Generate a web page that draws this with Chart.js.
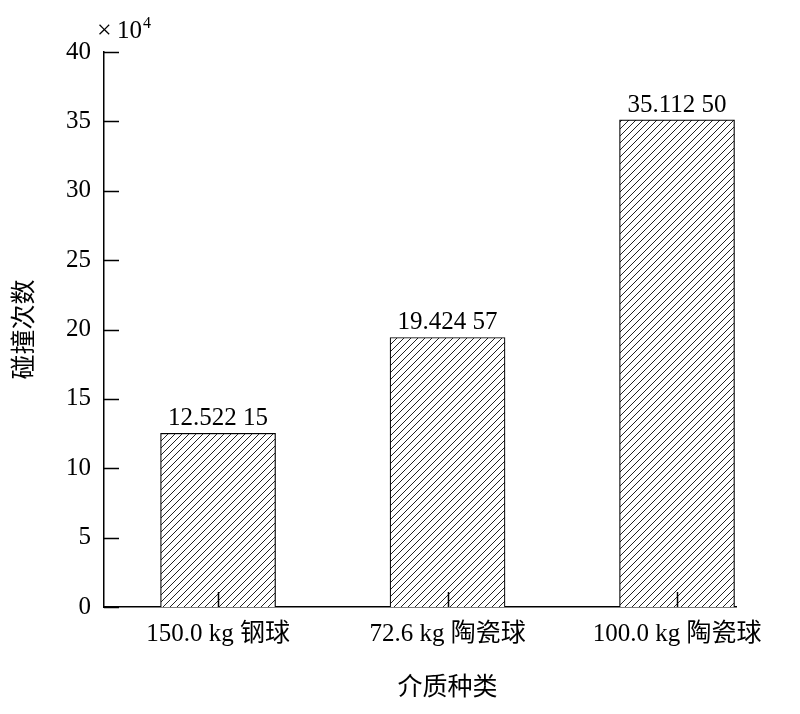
<!DOCTYPE html>
<html>
<head>
<meta charset="utf-8">
<script src="https://cdn.jsdelivr.net/npm/chart.js@4"></script>
<style>
  html, body { margin: 0; padding: 0; background: #fff; }
  #wrap { width: 800px; height: 714px; }
</style>
</head>
<body>
<div id="wrap"><canvas id="myChart"></canvas></div>
<script>
const categories = ['150.0 kg 钢球', '72.6 kg 陶瓷球', '100.0 kg 陶瓷球'];
const positions = [1, 2, 3];
const counts = [12.52215, 19.42457, 35.11250];
const countLabels = ['12.522 15', '19.424 57', '35.112 50'];
const yTicks = [0, 5, 10, 15, 20, 25, 30, 35, 40];

const FONT = '"Liberation Serif", "Noto Sans CJK SC", serif';

// diagonal hatch fill
function hatch() {
  const s = 7;
  const c = document.createElement('canvas');
  c.width = s; c.height = s;
  const g = c.getContext('2d');
  g.fillStyle = '#fff';
  g.fillRect(0, 0, s, s);
  g.strokeStyle = '#222';
  g.lineWidth = 1;
  g.beginPath();
  g.moveTo(0, s); g.lineTo(s, 0);
  g.moveTo(-2, 2); g.lineTo(2, -2);
  g.moveTo(s - 2, s + 2); g.lineTo(s + 2, s - 2);
  g.stroke();
  return g.createPattern(c, 'repeat');
}

const extras = {
  id: 'extras',
  afterDatasetsDraw(chart) {
    const ctx = chart.ctx;
    const x = chart.scales.x, y = chart.scales.y;
    ctx.save();
    ctx.strokeStyle = '#000';
    ctx.lineWidth = 1.5;
    // inward ticks
    ctx.beginPath();
    yTicks.forEach(v => {
      const py = Math.round(y.getPixelForValue(v)) + 0.5;
      ctx.moveTo(x.left, py); ctx.lineTo(x.left + 15, py);
    });
    positions.forEach(v => {
      const px = Math.round(x.getPixelForValue(v)) + 0.5;
      ctx.moveTo(px, y.bottom); ctx.lineTo(px, y.bottom - 15);
    });
    ctx.stroke();
    // value labels
    ctx.fillStyle = '#000';
    ctx.font = '25px ' + FONT;
    ctx.textAlign = 'center';
    ctx.textBaseline = 'alphabetic';
    chart.getDatasetMeta(0).data.forEach((bar, i) => {
      ctx.fillText(countLabels[i], bar.x, bar.y - 8);
    });
    // axis title under the middle category
    ctx.fillText('介质种类', x.getPixelForValue(2), 695);
    // x10^4
    ctx.textAlign = 'left';
    ctx.font = '26px ' + FONT;
    ctx.fillText('×', 97, 38);
    ctx.font = '25px ' + FONT;
    ctx.fillText('10', 117, 38);
    ctx.font = '16px ' + FONT;
    ctx.fillText('4', 117 + ctx.measureText('10').width * 25 / 16 + 1, 28);
    ctx.restore();
  }
};

new Chart(document.getElementById('myChart'), {
  type: 'bar',
  data: {
    datasets: [{
      data: positions.map((p, i) => ({ x: p, y: counts[i] })),
      backgroundColor: hatch(),
      borderColor: '#000',
      borderWidth: 1.2,
      barThickness: 115
    }]
  },
  options: {
    responsive: true,
    maintainAspectRatio: false,
    animation: false,
    layout: { padding: { left: 0, top: 52, right: 64, bottom: 0 } },
    plugins: { legend: { display: false }, tooltip: { enabled: false } },
    scales: {
      x: {
        type: 'linear',
        offset: false,
        min: 0.503,
        max: 3.257,
        afterBuildTicks: s => { s.ticks = positions.map(v => ({ value: v })); },
        afterFit: s => { s.height = 107; },
        ticks: {
          color: '#000',
          font: { family: FONT, size: 25 },
          padding: 12,
          maxRotation: 0,
          autoSkip: false,
          callback: v => categories[positions.indexOf(v)]
        },
        grid: { display: false, drawTicks: false },
        border: { display: true, color: '#000', width: 1.5 }
      },
      y: {
        min: 0,
        max: 40,
        afterBuildTicks: s => { s.ticks = yTicks.map(v => ({ value: v })); },
        afterFit: s => { s.width = 104; },
        ticks: {
          color: '#000',
          font: { family: FONT, size: 25 },
          padding: 13
        },
        grid: { display: false, drawTicks: false },
        border: { display: true, color: '#000', width: 1.5 },
        title: {
          display: true,
          text: '碰撞次数',
          color: '#000',
          font: { family: FONT, size: 25 },
          padding: { top: 10, bottom: 0 }
        }
      }
    }
  },
  plugins: [extras]
});
</script>
</body>
</html>
